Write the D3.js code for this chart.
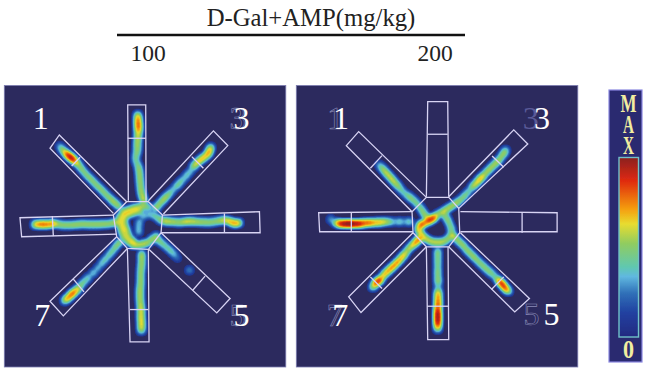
<!DOCTYPE html>
<html>
<head>
<meta charset="utf-8">
<script src="https://cdn.jsdelivr.net/npm/d3@7"></script>
<style>
  html, body { margin: 0; padding: 0; background: #fff; }
  svg { display: block; }
  text { font-family: "Liberation Serif", serif; }
</style>
</head>
<body>
<svg width="650" height="377"></svg>
<script>
// Arena units: both panels share one 0-870 tracking grid
// Arm: inner end, outer corner, outer corner, inner end, divider start, divider end
const armsLeft = [
  [[385,362],[383,75],[437,75],[438,362],[383,175],[437,175]],
  [[445,362],[640,153],[683,197],[490,402],[575,230],[610,265]],
  [[487,405],[778,395],[780,458],[483,458],[673,400],[673,457]],
  [[483,458],[690,655],[650,698],[447,508],[615,588],[578,630]],
  [[445,508],[447,785],[390,785],[382,505],[390,688],[445,688]],
  [[382,505],[190,707],[150,663],[350,470],[252,635],[220,597]],
  [[350,462],[65,470],[60,413],[340,405],[160,468],[157,408]],
  [[340,400],[150,205],[178,165],[380,365],[215,258],[240,232]]
];
const armsRight = [
  [[403,350],[407,65],[467,65],[470,350],[407,163],[467,163]],
  [[470,350],[665,150],[707,192],[500,385],[600,228],[635,262]],
  [[505,395],[795,398],[795,455],[505,455],[690,398],[690,458]],
  [[505,458],[712,655],[668,695],[470,500],[635,590],[598,628]],
  [[468,500],[470,778],[407,778],[403,500],[405,678],[470,678]],
  [[403,500],[207,697],[170,650],[363,458],[270,625],[235,590]],
  [[363,455],[83,455],[80,398],[360,395],[178,455],[178,398]],
  [[360,395],[163,197],[200,155],[403,352],[235,265],[270,227]]
];
const hubLeft = [[380,365],[445,365],[487,405],[483,458],[445,508],[382,505],[350,470],[340,405]];
const hubRight = [[403,352],[470,352],[500,385],[503,458],[470,500],[403,500],[363,458],[360,395]];

// Tracked positions: x, y, dwell
const trackLeft = [
  // arm 2
  [413,105,.5],[414,115,.7],[414,125,.85],[415,135,.85],[415,145,.8],[415,155,.7],[414,168,.6],[413,180,.5],[412,192,.5],[412,204,.45],[411,216,.42],[408,228,.35],[407,240,.3],[412,252,.35],[416,264,.42],[418,276,.45],[419,288,.45],[420,300,.45],[421,312,.45],[422,324,.45],[424,336,.5],[427,348,.55],[431,360,.6],
  // arm 3
  [632,203,.5],[628,212,.7],[624,222,.75],[615,230,.65],[606,236,.65],[597,243,.65],[588,251,.6],[580,260,.5],[570,275,.25],[560,286,.3],[550,297,.25],[540,307,.35],[531,317,.35],[520,328,.25],[510,338,.3],[502,347,.4],[494,355,.45],[486,363,.45],[477,373,.45],[468,383,.5],
  // arm 4
  [716,428,.6],[706,430,.75],[695,427,.75],[684,422,.65],[672,420,.55],[660,422,.5],[648,424,.42],[636,426,.42],[624,427,.42],[612,426,.45],[600,426,.45],[588,425,.5],[576,424,.55],[564,424,.6],[552,425,.55],[540,427,.45],[528,426,.45],[516,425,.5],[504,424,.5],[494,423,.5],
  // arm 5
  [472,478,.4],[482,486,.35],[492,494,.3],[502,503,.3],[512,512,.3],[522,522,.25],[532,534,.1],[568,570,.18],
  // arm 6
  [424,750,.5],[424,738,.65],[424,726,.65],[423,714,.65],[423,702,.6],[423,690,.6],[422,678,.55],[421,666,.5],[420,654,.5],[420,642,.5],[420,630,.5],[421,618,.45],[422,606,.45],[422,594,.42],[422,582,.42],[423,570,.42],[424,558,.45],[425,546,.45],[425,534,.45],[425,522,.5],
  // arm 7
  [195,660,.6],[205,652,1],[215,642,1.1],[225,634,.9],[235,625,.7],[245,612,.4],[255,602,.3],[265,592,.3],[280,578,.3],[293,564,.25],[305,550,.3],[316,538,.35],[327,525,.35],[337,513,.4],[347,500,.45],[357,488,.5],
  // arm 8
  [105,433,.6],[115,433,.75],[125,433,.8],[135,433,.8],[145,433,.75],[155,431,.7],[165,431,.6],[177,433,.45],[189,435,.42],[201,435,.42],[213,435,.42],[225,434,.45],[237,433,.45],[249,432,.45],[261,433,.45],[273,433,.45],[285,433,.45],[297,433,.45],[309,432,.45],[321,432,.42],[333,430,.42],[345,428,.5],
  // arm 1
  [180,200,.25],[188,210,.5],[198,220,1],[207,228,1.3],[216,235,1.4],[225,243,1],[235,254,.65],[245,267,.5],[255,279,.45],[265,290,.45],[275,300,.45],[285,310,.45],[295,320,.45],[305,330,.45],[315,340,.45],[325,350,.45],[335,360,.5],[345,368,.5],[355,378,.5],
  // hub
  [370,395,.6],[385,390,.65],[400,385,.65],[415,382,.65],[430,378,.6],[445,382,.4],[360,410,.6],[375,407,.65],[390,402,.6],[405,397,.55],[420,395,.4],[358,425,.6],[372,422,.6],[362,440,.6],[375,438,.6],[366,455,.6],[380,452,.6],[372,470,.6],[386,468,.6],[384,484,.6],[398,482,.6],[400,494,.6],[414,494,.6],[428,492,.6],[442,488,.6],[455,478,.55],[468,468,.4],
  [418,425,.25],[416,440,.25],[416,455,.25],[430,408,.25],[445,402,.25],[460,405,.3],[472,412,.35],[482,420,.4]
];
const trackRight = [
  // arm 1
  [262,255,.2],[270,264,.4],[278,273,.5],[286,282,.55],[294,291,.55],[302,300,.55],[310,309,.5],[318,318,.45],[326,328,.3],[335,337,.25],[345,345,.3],[354,352,.4],[364,360,.4],[374,370,.4],[384,382,.4],[392,394,.45],[400,406,.55],[408,418,.6],
  // arm 3
  [640,212,.4],[634,222,.5],[626,233,.45],[618,243,.45],[610,251,.5],[600,260,.55],[590,270,.55],[580,280,.55],[570,291,.8],[560,301,.85],[550,312,.7],[540,322,.5],[528,336,.35],[518,347,.4],[508,357,.4],[498,365,.45],[488,372,.5],[476,380,.55],[464,388,.6],[452,395,.6],[438,403,.6],[426,412,.7],
  // arm 8
  [116,418,.2],[130,428,.4],[140,430,.9],[150,431,1.2],[160,431,1.35],[170,431,1.35],[180,431,1.35],[190,431,1.25],[200,431,1.1],[210,430,1],[220,429,.85],[230,428,.8],[240,428,.7],[250,427,.65],[260,427,.6],[270,426,.55],[280,425,.5],[292,425,.4],[305,425,.2],[322,425,.35],[338,425,.15],[352,425,.35],
  // arm 7
  [243,620,.5],[250,610,1],[258,603,1.1],[266,597,.9],[275,585,.75],[284,576,.75],[293,568,.8],[302,560,.85],[311,551,.85],[320,542,.8],[329,532,.8],[338,522,.7],[347,510,.55],[356,500,.55],[365,492,.7],[374,484,.9],[382,476,.8],
  // arm 6
  [437,745,.5],[437,735,.9],[437,725,1.15],[437,715,1.3],[437,705,1.3],[437,695,1.1],[437,685,.95],[438,675,.85],[438,665,.8],[438,655,.75],[438,645,.7],[438,635,.55],[438,622,.25],[438,608,.3],[438,598,.42],[437,586,.35],[437,574,.4],[437,562,.3],[437,550,.35],[437,538,.35],[437,526,.35],[437,514,.4],
  // arm 5
  [648,632,.6],[640,624,1.1],[632,614,1.2],[624,605,1.1],[616,596,.5],[605,585,.3],[595,577,.42],[585,568,.45],[575,559,.42],[565,550,.45],[555,540,.45],[545,530,.5],[535,520,.5],[525,510,.5],[515,498,.5],[505,488,.5],[495,478,.5],[485,468,.5],
  // hub
  [384,435,.8],[392,432,.75],[400,428,.55],[408,424,.55],[416,420,.7],[424,414,.65],
  [460,408,.45],[467,420,.45],[473,433,.4],[478,446,.4],[478,460,.4],[472,472,.45],[462,481,.5],[450,486,.55],[438,487,.55],[426,486,.55],[414,483,.55],[403,476,.6],[393,468,.6],[385,458,.65],[380,447,.7]
];

// Arm numbers: label, x, baseline y, ghost x (null = none), ghost style
const labelsLeft = [
  ["1",122,147,null,""],["3",724,147,712,"line"],["7",127,738,null,""],["5",724,738,712,"line"]
];
const labelsRight = [
  ["1",147,147,130,"line"],["3",750,147,716,"solid"],["7",145,738,128,"line"],["5",778,735,718,"line"]
];

// Heat colour ramp
const rampStops = [0,.133,.244,.337,.39,.52,.63,.71,.87,1];
const rampColors = ["#202a80","#2040a0","#3070b8","#60b8e0","#60c8b0","#90cc60","#e8dc30","#f5a010","#e02a10","#8a2020"];
const heatLevels = d3.range(0.08, 1, 0.03);
const densityMax = 0.062;

const heatColor = d3.scaleLinear().domain(rampStops).range(rampColors);
const heatScale = d3.scaleSqrt().domain([0, densityMax]).range([0, 1]);
const svg = d3.select("svg");

const defs = svg.append("defs");
defs.append("filter").attr("id", "soft").attr("x", "-5%").attr("y", "-5%").attr("width", "110%").attr("height", "110%")
  .append("feGaussianBlur").attr("stdDeviation", 0.5);
const grad = defs.append("linearGradient").attr("id", "ramp")
  .attr("x1", 0).attr("y1", 1).attr("x2", 0).attr("y2", 0);
rampStops.forEach((s, i) => grad.append("stop").attr("offset", s).attr("stop-color", rampColors[i]));

function drawPanel(left, arms, hub, track, labels) {
  const size = 281.5;
  const g = svg.append("g").attr("transform", `translate(${left},85.5)`);
  const x = d3.scaleLinear().domain([13, 857]).range([0, size]);
  const y = d3.scaleLinear().domain([17, 860]).range([0, size]);

  g.append("rect").attr("width", size).attr("height", size)
    .attr("fill", "#2c2a5e").attr("stroke", "#7c7cb0").attr("stroke-width", 0.8);

  const density = d3.contourDensity()
    .x(d => x(d[0])).y(d => y(d[1])).weight(d => d[2])
    .size([size, size]).cellSize(1).bandwidth(2.4)
    .thresholds(heatLevels.map(t => heatScale.invert(t)));

  g.append("g").attr("filter", "url(#soft)")
    .selectAll("path").data(density(track)).join("path")
    .attr("d", d3.geoPath())
    .attr("fill", d => heatColor(heatScale(d.value)));

  const line = d3.line().x(d => x(d[0])).y(d => y(d[1]));
  const outline = g.append("g").attr("filter", "url(#soft)")
    .attr("fill", "none").attr("stroke", "#d8d4f4").attr("stroke-width", 1.3);
  outline.selectAll(".arm").data(arms).join("path").attr("class", "arm")
    .attr("d", d => line(d.slice(0, 4)));
  outline.selectAll(".divider").data(arms).join("path").attr("class", "divider")
    .attr("d", d => line(d.slice(4, 6)));
  outline.append("path").datum(hub).attr("d", d => line(d) + "Z");

  const ghosts = labels.filter(d => d[3] !== null);
  g.selectAll(".ghost").data(ghosts).join("text").attr("class", "ghost")
    .attr("x", d => x(d[3])).attr("y", d => y(d[2]))
    .attr("text-anchor", "middle").attr("font-size", 32)
    .attr("fill", d => d[4] === "solid" ? "#5a5a98" : "none")
    .attr("stroke", d => d[4] === "solid" ? "none" : "#8a8ab8")
    .attr("stroke-width", 0.6)
    .text(d => d[0]);
  g.selectAll(".digit").data(labels).join("text").attr("class", "digit")
    .attr("x", d => x(d[1])).attr("y", d => y(d[2]))
    .attr("text-anchor", "middle").attr("font-size", 32).attr("fill", "#fff")
    .text(d => d[0]);
}

drawPanel(4.3, armsLeft, hubLeft, trackLeft, labelsLeft);
drawPanel(296.3, armsRight, hubRight, trackRight, labelsRight);

// Heading
svg.append("text").attr("x", 311).attr("y", 26).attr("text-anchor", "middle")
  .attr("font-size", 24.7).attr("fill", "#222").text("D-Gal+AMP(mg/kg)");
svg.append("line").attr("x1", 117).attr("x2", 465).attr("y1", 35).attr("y2", 35)
  .attr("stroke", "#111").attr("stroke-width", 2.5);
svg.append("text").attr("x", 148).attr("y", 61).attr("text-anchor", "middle")
  .attr("font-size", 23.5).attr("fill", "#222").text("100");
svg.append("text").attr("x", 435).attr("y", 61).attr("text-anchor", "middle")
  .attr("font-size", 23.5).attr("fill", "#222").text("200");

// Colour bar
const bar = svg.append("g");
bar.append("rect").attr("x", 609).attr("y", 90).attr("width", 33).attr("height", 272)
  .attr("fill", "#2c2a70").attr("stroke", "#8a88e0").attr("stroke-width", 1.2).attr("filter", "url(#soft)");
bar.append("rect").attr("x", 619).attr("y", 157.5).attr("width", 19.5).attr("height", 179.5)
  .attr("fill", "url(#ramp)").attr("stroke", "#70c0c8").attr("stroke-width", 1.4).attr("filter", "url(#soft)");
bar.selectAll(".max").data([["M",16],["A",11],["X",11]]).join("text").attr("class", "max")
  .attr("x", 628.5).attr("y", (d, i) => 112 + i * 20.8).attr("text-anchor", "middle")
  .attr("font-size", 26).attr("font-weight", "bold").attr("fill", "#f2eda0")
  .attr("textLength", d => d[1]).attr("lengthAdjust", "spacingAndGlyphs")
  .text(d => d[0]);
bar.append("text").attr("x", 628.5).attr("y", 358).attr("text-anchor", "middle")
  .attr("font-size", 25).attr("font-weight", "bold").attr("fill", "#f2eda0")
  .attr("textLength", 11).attr("lengthAdjust", "spacingAndGlyphs").text("0");
</script>
</body>
</html>
